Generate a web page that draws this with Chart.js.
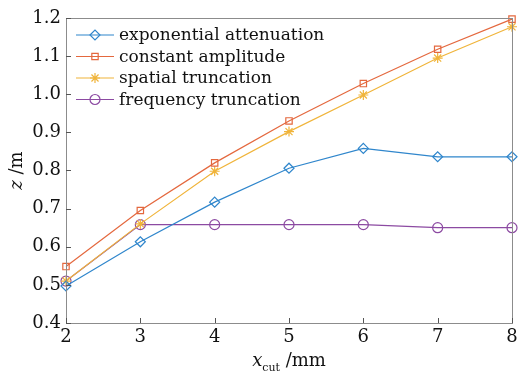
<!DOCTYPE html>
<html>
<head>
<meta charset="utf-8">
<script src="https://cdn.jsdelivr.net/npm/chart.js@4"></script>
<style>
  html, body { margin: 0; padding: 0; background: #fff; }
  #wrap { width: 525px; height: 375px; }
</style>
</head>
<body>
<div id="wrap"><canvas id="myChart" width="525" height="375"></canvas></div>
<script>
const xCut = [2, 3, 4, 5, 6, 7, 8];
const expAtten = [0.497, 0.613, 0.717, 0.806, 0.858, 0.836, 0.836];
const constAmp = [0.548, 0.695, 0.820, 0.930, 1.028, 1.118, 1.197];
const spatialTrunc = [0.510, 0.660, 0.798, 0.902, 0.998, 1.095, 1.177];
const freqTrunc = [0.510, 0.658, 0.658, 0.658, 0.658, 0.650, 0.650];
const seriesNames = ['exponential attenuation', 'constant amplitude', 'spatial truncation', 'frequency truncation'];
const yTicks = [0.4, 0.5, 0.6, 0.7, 0.8, 0.9, 1.0, 1.1, 1.2];

const FONT = '"DejaVu Serif", "Liberation Serif", serif';
const colors = ['#2f86cc', '#e4683e', '#f0b43a', '#8c4aa2'];
const markers = ['rectRot', 'rect', 'star', 'circle'];
const radii = [5, 4.5, 5, 5];

const toPoints = (arr) => arr.map((v, i) => ({ x: xCut[i], y: v }));
const allSeries = [expAtten, constAmp, spatialTrunc, freqTrunc];

const datasets = allSeries.map((arr, i) => ({
  label: seriesNames[i],
  data: toPoints(arr),
  borderColor: colors[i],
  backgroundColor: 'rgba(255,255,255,0)',
  pointBorderColor: colors[i],
  pointBackgroundColor: 'rgba(255,255,255,0)',
  pointStyle: markers[i],
  pointRadius: radii[i],
  pointBorderWidth: 1.2,
  borderWidth: 1.2,
  fill: false,
  tension: 0,
  clip: false,
}));

// frame, inward ticks, axis titles and in-plot legend
const decorations = {
  id: 'decorations',
  afterDraw(chart) {
    const { ctx, chartArea: a, scales } = chart;
    ctx.save();
    ctx.strokeStyle = '#8c8c8c';
    ctx.lineWidth = 1;
    ctx.strokeRect(a.left + 0.5, a.top + 0.5, a.right - a.left, a.bottom - a.top);
    ctx.strokeStyle = '#555';
    xCut.forEach((v) => {
      const px = Math.round(scales.x.getPixelForValue(v)) + 0.5;
      ctx.beginPath();
      ctx.moveTo(px, a.bottom);
      ctx.lineTo(px, a.bottom - 5);
      ctx.stroke();
    });
    yTicks.forEach((v) => {
      const py = Math.round(scales.y.getPixelForValue(v)) + 0.5;
      ctx.beginPath();
      ctx.moveTo(a.left, py);
      ctx.lineTo(a.left + 5, py);
      ctx.stroke();
    });

    // x title
    ctx.fillStyle = '#111';
    ctx.textBaseline = 'alphabetic';
    const cx = (a.left + a.right) / 2;
    const ty = 368;
    ctx.font = 'italic 18px ' + FONT;
    const w1 = ctx.measureText('x').width;
    ctx.font = '11px ' + FONT;
    const w2 = ctx.measureText('cut').width;
    ctx.font = '18px ' + FONT;
    const w3 = ctx.measureText(' /mm').width;
    let sx = cx - (w1 + w2 + w3) / 2;
    ctx.textAlign = 'left';
    ctx.font = 'italic 18px ' + FONT;
    ctx.fillText('x', sx, ty - 2);
    sx += w1;
    ctx.font = '11px ' + FONT;
    ctx.fillText('cut', sx, ty + 3);
    sx += w2;
    ctx.font = '18px ' + FONT;
    ctx.fillText(' /mm', sx, ty - 2);

    // y title
    ctx.save();
    ctx.translate(22, (a.top + a.bottom) / 2);
    ctx.rotate(-Math.PI / 2);
    ctx.font = 'italic 18px ' + FONT;
    const zw = ctx.measureText('z').width;
    ctx.font = '18px ' + FONT;
    const mw = ctx.measureText(' /m').width;
    const yx = -(zw + mw) / 2;
    ctx.font = 'italic 18px ' + FONT;
    ctx.fillText('z', yx, 0);
    ctx.font = '18px ' + FONT;
    ctx.fillText(' /m', yx + zw, 0);
    ctx.restore();

    // legend
    const lx0 = a.left + 10;
    const lx1 = a.left + 48;
    chart.data.datasets.forEach((ds, i) => {
      const ly = a.top + 17 + i * 21.5;
      ctx.strokeStyle = ds.borderColor;
      ctx.fillStyle = 'rgba(255,255,255,0)';
      ctx.lineWidth = 1.2;
      ctx.beginPath();
      ctx.moveTo(lx0, ly);
      ctx.lineTo(lx1, ly);
      ctx.stroke();
      Chart.helpers.drawPoint(ctx, {
        pointStyle: ds.pointStyle,
        radius: ds.pointRadius,
        borderWidth: ds.pointBorderWidth,
        rotation: 0,
      }, (lx0 + lx1) / 2, ly);
      ctx.fillStyle = '#111';
      ctx.font = '17px ' + FONT;
      ctx.textAlign = 'left';
      ctx.textBaseline = 'middle';
      ctx.fillText(ds.label, lx1 + 5, ly + 1);
    });
    ctx.restore();
  },
};

const chart = new Chart('myChart', {
  type: 'line',
  data: { datasets },
  options: {
    responsive: false,
    animation: false,
    events: [],
    layout: { padding: { top: 18, right: 13, left: 0, bottom: 0 } },
    plugins: { legend: { display: false }, tooltip: { enabled: false } },
    scales: {
      x: {
        type: 'linear',
        min: 2,
        max: 8,
        grid: { display: false, drawTicks: false },
        border: { display: false },
        afterBuildTicks: (s) => { s.ticks = xCut.map((v) => ({ value: v })); },
        afterFit: (s) => { s.height = 52; },
        ticks: {
          padding: 4,
          color: '#111',
          font: { family: FONT, size: 18 },
          maxRotation: 0,
          callback: (v) => String(v),
        },
      },
      y: {
        type: 'linear',
        min: 0.4,
        max: 1.2,
        grid: { display: false, drawTicks: false },
        border: { display: false },
        afterBuildTicks: (s) => { s.ticks = yTicks.map((v) => ({ value: v })); },
        afterFit: (s) => { s.width = 66; },
        ticks: {
          padding: 5,
          color: '#111',
          font: { family: FONT, size: 18 },
          callback: (v) => Number(v).toFixed(1),
        },
      },
    },
  },
  plugins: [decorations],
});
</script>
</body>
</html>
